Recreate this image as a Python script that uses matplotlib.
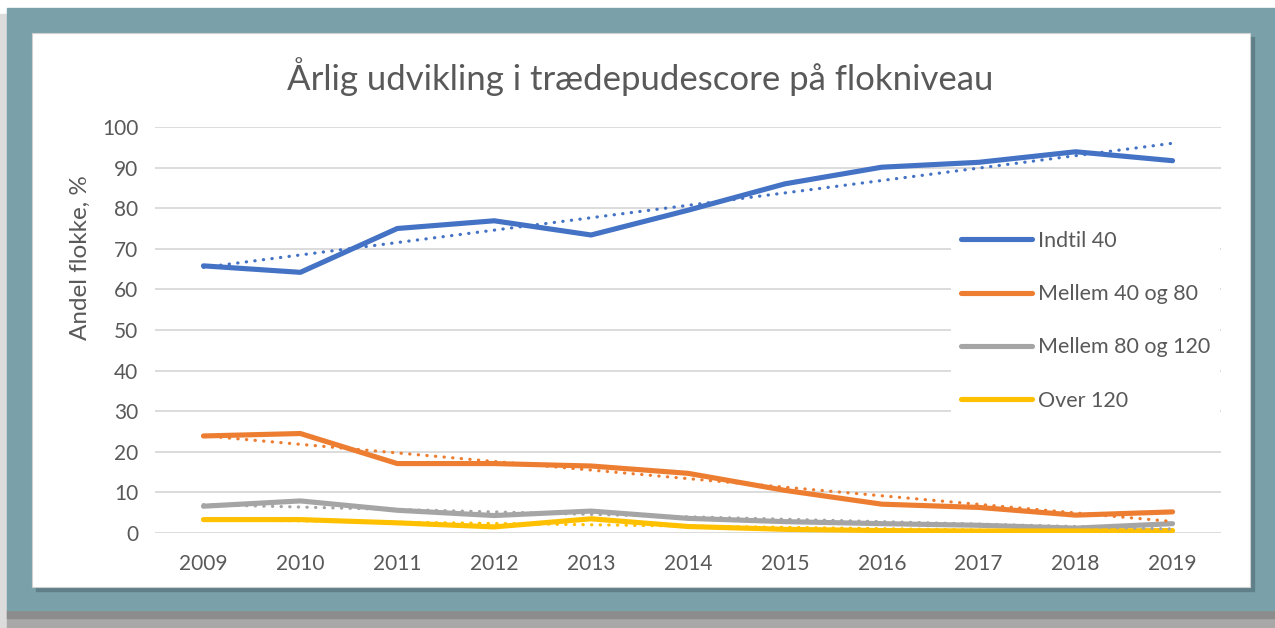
import numpy as np
import matplotlib
matplotlib.use("Agg")
import matplotlib.pyplot as plt
from matplotlib.patches import Rectangle

plt.rcParams['font.family'] = ['Lato', 'DejaVu Sans']

# data
years = [2009, 2010, 2011, 2012, 2013, 2014, 2015, 2016, 2017, 2018, 2019]
indtil_40 = [65.8, 64.2, 75.0, 76.9, 73.4, 79.5, 86.0, 90.1, 91.3, 93.9, 91.7]
mellem_40_80 = [23.9, 24.5, 17.1, 17.1, 16.5, 14.7, 10.5, 7.1, 6.3, 4.4, 5.2]
mellem_80_120 = [6.6, 7.9, 5.6, 4.3, 5.4, 3.6, 2.8, 2.3, 1.9, 1.2, 2.3]
over_120 = [3.3, 3.3, 2.5, 1.5, 3.5, 1.6, 0.9, 0.6, 0.5, 0.5, 0.6]

labels = ["Indtil 40", "Mellem 40 og 80", "Mellem 80 og 120", "Over 120"]
colors = ["#4472C4", "#ED7D31", "#A5A5A5", "#FFC000"]
series = [indtil_40, mellem_40_80, mellem_80_120, over_120]

W, H = 1275, 628
fig = plt.figure(figsize=(W / 100, H / 100), dpi=100)
fig.patch.set_facecolor("white")

# frame: shadow, teal border, white panel
def px_rect(x0, y0, x1, y1, **kw):
    fig.patches.append(Rectangle((x0 / W, 1 - y1 / H), (x1 - x0) / W, (y1 - y0) / H,
                                 transform=fig.transFigure, **kw))

px_rect(0, 14, 7, 628, color="#dcdcdc", zorder=0)
px_rect(7, 610, 1275, 628, color="#a8a8a8", zorder=0)
px_rect(7, 610, 1275, 618, color="#8c8c8c", zorder=0)
px_rect(7, 8, 1275, 610, color="#7AA1AA", zorder=1)
px_rect(36, 37, 1254, 591, color="#5f8088", zorder=1)
px_rect(32, 33, 1250, 587, facecolor="white", edgecolor="#d0d0d0", lw=0.8, zorder=2)

ax = fig.add_axes([155 / W, 1 - 533 / H, (1221 - 155) / W, (533 - 127) / H])
ax.set_zorder(3)
ax.patch.set_alpha(0)

x = np.array(years)
for vals, lab, col in zip(series, labels, colors):
    ax.plot(years, vals, color=col, lw=3.7, solid_capstyle="round",
            solid_joinstyle="round", label=lab, zorder=3)
for vals, col in zip(series, colors):
    # linear trendline like Excel
    k, b = np.polyfit(x, vals, 1)
    ax.plot(years, k * x + b, color=col, lw=2.3, linestyle=(0, (0.1, 2.6)),
            dash_capstyle="round", zorder=4)

ax.set_xlim(2008.5, 2019.5)
ax.set_ylim(0, 100)
ax.set_xticks(years)
ax.set_yticks(range(0, 101, 10))
ax.grid(axis="y", color="#d9d9d9", lw=1.3)
ax.set_axisbelow(True)
for s in ax.spines.values():
    s.set_visible(False)
ax.tick_params(length=0, labelsize=15, labelcolor="#595959", pad=12)
ax.tick_params(axis="x", pad=15)

ax.set_ylabel("Andel flokke, %", fontsize=17.5, color="#595959")
ax.yaxis.set_label_coords((91 - 155) / 1066, (533 - 258) / 406)

fig.text(640 / W, 1 - 77 / H, "Årlig udvikling i trædepudescore på flokniveau",
         ha="center", va="center", fontsize=25, color="#595959")

leg = ax.legend(loc="upper left", bbox_to_anchor=((951 - 155) / (1221 - 155), (533 - 221) / (533 - 127)),
                frameon=True, facecolor="white", edgecolor="white", framealpha=1,
                fontsize=15.5, handlelength=3.3, handletextpad=0.3, labelspacing=1.55,
                borderpad=0.45, borderaxespad=0)
leg.get_frame().set_linewidth(0)
for t in leg.get_texts():
    t.set_color("#595959")
for h in leg.get_lines():
    h.set_linewidth(3.7)
    h.set_solid_capstyle("round")

fig.savefig("out.png", dpi=100)
